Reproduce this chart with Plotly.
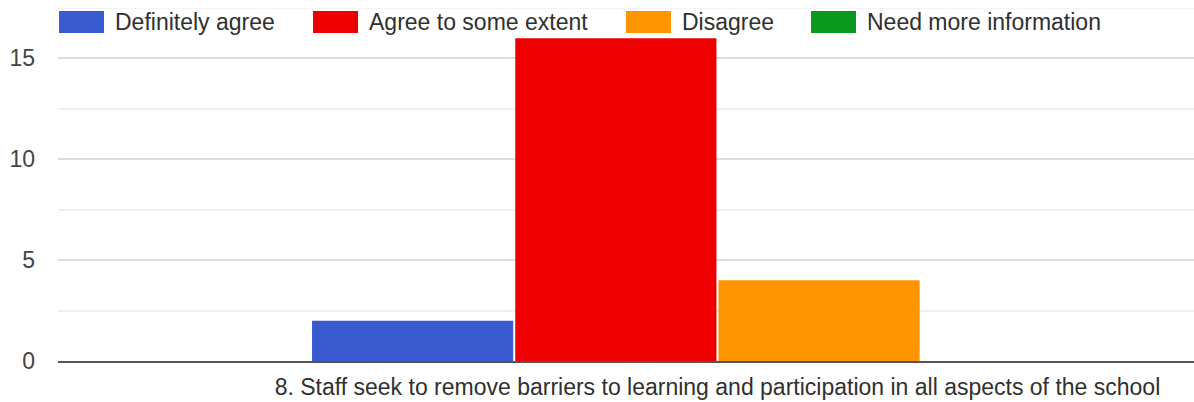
import plotly.graph_objects as go

# Survey responses for a single statement
question = "8. Staff seek to remove barriers to learning and participation in all aspects of the school"
answers = ["Definitely agree", "Agree to some extent", "Disagree", "Need more information"]
counts = [2, 16, 4, 0]
colors = ["#3a5bd0", "#ee0000", "#fd9400", "#0b9a1f"]
y_ticks = [0, 5, 10, 15]
y_max = 17.5

FONT = "Liberation Sans, Arial, sans-serif"
FS = 23
W, H = 1194, 402
ML, MR, MT, MB = 58, 0, 8, 41

fig = go.Figure()
for name, val, col in zip(answers, counts, colors):
    fig.add_trace(go.Bar(
        x=[question], y=[val], name=name,
        marker=dict(color=col, line=dict(width=0)),
        showlegend=False,
    ))

# Custom legend row across the top: wide swatches followed by labels
legend_left_px = [59, 313, 626, 811]
sw_w, sw_top, sw_bot = 45, 11, 33
plot_w = W - ML - MR
plot_h = H - MT - MB


def px_to_paper_x(px):
    return (px - ML) / plot_w


def px_to_paper_y(py):
    return (H - MB - py) / plot_h


# faint line along the top of the value range
fig.add_shape(type="line", xref="paper", yref="y", x0=0, x1=1, y0=y_max, y1=y_max,
              line=dict(color="#efefef", width=1.5), layer="below")

for name, col, lx in zip(answers, colors, legend_left_px):
    fig.add_shape(
        type="rect", xref="paper", yref="paper",
        x0=px_to_paper_x(lx), x1=px_to_paper_x(lx + sw_w),
        y0=px_to_paper_y(sw_bot), y1=px_to_paper_y(sw_top),
        fillcolor=col, line=dict(width=0), layer="above",
    )
    fig.add_annotation(
        xref="paper", yref="paper",
        x=px_to_paper_x(lx + sw_w + 9), y=px_to_paper_y((sw_top + sw_bot) / 2),
        text=name, showarrow=False, xanchor="left", yanchor="middle",
        font=dict(family=FONT, size=FS, color="#303030"),
    )

fig.update_layout(
    width=W, height=H,
    margin=dict(l=ML, r=MR, t=MT, b=MB),
    paper_bgcolor="white", plot_bgcolor="white",
    barmode="group", bargap=0.2, bargroupgap=0.01,
    showlegend=False,
    font=dict(family=FONT, size=FS, color="#444444"),
)
fig.update_xaxes(
    type="category", range=[-0.649, 0.469],
    showgrid=False, showline=True, linecolor="#555555", linewidth=2,
    ticks="", ticklabelstandoff=4,
    tickfont=dict(size=FS, color="#303030"),
    fixedrange=True,
)
fig.update_yaxes(
    range=[0, y_max], tickvals=y_ticks,
    showgrid=True, gridcolor="#dcdcdc", gridwidth=1.5,
    minor=dict(dtick=2.5, tick0=0, showgrid=True, gridcolor="#efefef", gridwidth=1.5),
    zeroline=False, showline=False, ticks="",
    ticklabelstandoff=22,
    tickfont=dict(size=FS, color="#444444"),
    fixedrange=True,
)

fig.write_html("out.html")
